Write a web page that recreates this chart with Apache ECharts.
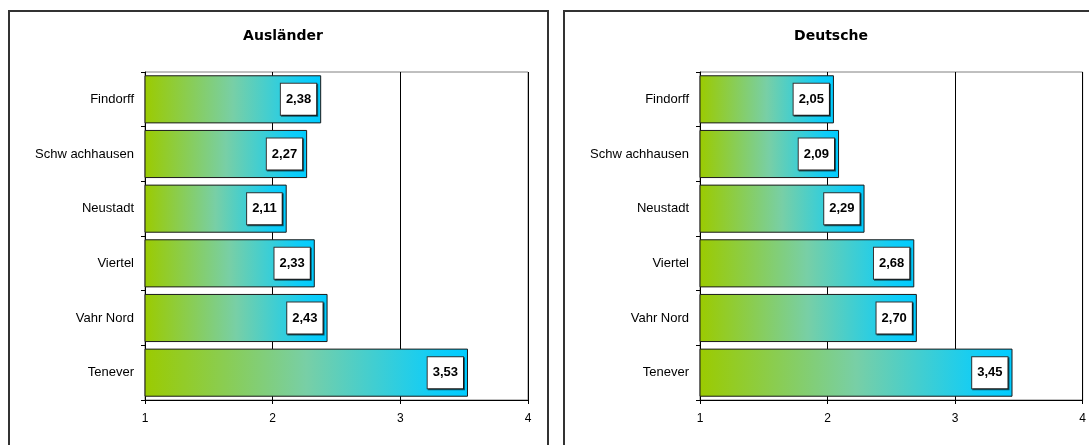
<!DOCTYPE html>
<html>
<head>
<meta charset="utf-8">
<script src="https://cdn.jsdelivr.net/npm/echarts@6/dist/echarts.min.js"></script>
<style>
html,body{margin:0;padding:0;background:#fff;}
#c{width:1089px;height:445px;}
</style>
</head>
<body>
<div id="c"></div>
<script>
const categories = ['Findorff', 'Schw achhausen', 'Neustadt', 'Viertel', 'Vahr Nord', 'Tenever'];
const auslaender = [2.38, 2.27, 2.11, 2.33, 2.43, 3.53];
const deutsche = [2.05, 2.09, 2.29, 2.68, 2.70, 3.45];
const titles = ['Ausländer', 'Deutsche'];
const xTicks = { min: 1, max: 4, interval: 1 };

const chart = echarts.init(document.getElementById('c'), null, { renderer: 'canvas' });

const font = 'Liberation Sans, Arial, sans-serif';
const grids = [
  { left: 145, top: 72, width: 383, height: 328 },
  { left: 700, top: 72, width: 383, height: 328 }
];

function mkGrad() {
  return new echarts.graphic.LinearGradient(0, 0, 1, 0, [
    { offset: 0, color: '#9bcb00' },
    { offset: 0.5, color: '#78cfa6' },
    { offset: 0.9, color: '#0fcdf8' },
    { offset: 1, color: '#00ccff' }
  ]);
}

function fmt(v) { return v.toFixed(2).replace('.', ','); }

const option = {
  animation: false,
  backgroundColor: '#fff',
  graphic: [
    { type: 'rect', shape: { x: 9, y: 11, width: 539, height: 460 }, style: { fill: 'none', stroke: '#333', lineWidth: 2 }, z: 0 },
    { type: 'rect', shape: { x: 564, y: 11, width: 540, height: 460 }, style: { fill: 'none', stroke: '#333', lineWidth: 2 }, z: 0 }
  ],
  title: titles.map((t, i) => ({
    text: t,
    left: i === 0 ? 278 : 826,
    top: 24,
    textAlign: 'center',
    textStyle: { fontFamily: 'DejaVu Sans, sans-serif', fontSize: 14, fontWeight: 'bold', color: '#000' }
  })),
  grid: grids.map(g => Object.assign({ show: true, borderColor: '#808080', borderWidth: 1, backgroundColor: 'transparent' }, g)),
  xAxis: [0, 1].map(i => ({
    type: 'value',
    gridIndex: i,
    min: xTicks.min, max: xTicks.max, interval: xTicks.interval,
    axisLine: { show: true, lineStyle: { color: '#000', width: 1 } },
    axisTick: { show: true, length: 4, lineStyle: { color: '#000' } },
    axisLabel: { fontFamily: font, fontSize: 12, color: '#000', margin: 13 },
    splitLine: { show: true, lineStyle: { color: '#000', width: 1 } }
  })),
  yAxis: [0, 1].map(i => ({
    type: 'category',
    gridIndex: i,
    data: categories,
    inverse: true,
    axisLine: { show: true, lineStyle: { color: '#000', width: 1 } },
    axisTick: { show: true, length: 4, alignWithLabel: false, lineStyle: { color: '#000' } },
    axisLabel: { fontFamily: font, fontSize: 13, color: '#000', margin: 11 },
    splitLine: { show: false }
  })),
  series: [auslaender, deutsche].map((d, i) => ({
    type: 'bar',
    xAxisIndex: i,
    yAxisIndex: i,
    data: d,
    barCategoryGap: '12%',
    itemStyle: { color: mkGrad(), borderColor: '#1a1a1a', borderWidth: 1 },
    label: {
      show: true,
      position: 'insideRight',
      distance: 5,
      formatter: p => fmt(p.value),
      fontFamily: font,
      fontSize: 13,
      fontWeight: 'bold',
      color: '#000',
      backgroundColor: '#fff',
      borderColor: '#333',
      borderWidth: 1,
      padding: [9, 5, 9, 5],
      shadowColor: 'rgba(0,0,0,0.55)',
      shadowOffsetX: 1,
      shadowOffsetY: 1,
      shadowBlur: 0
    },
    z: 3
  }))
};

chart.setOption(option);
</script>
</body>
</html>
